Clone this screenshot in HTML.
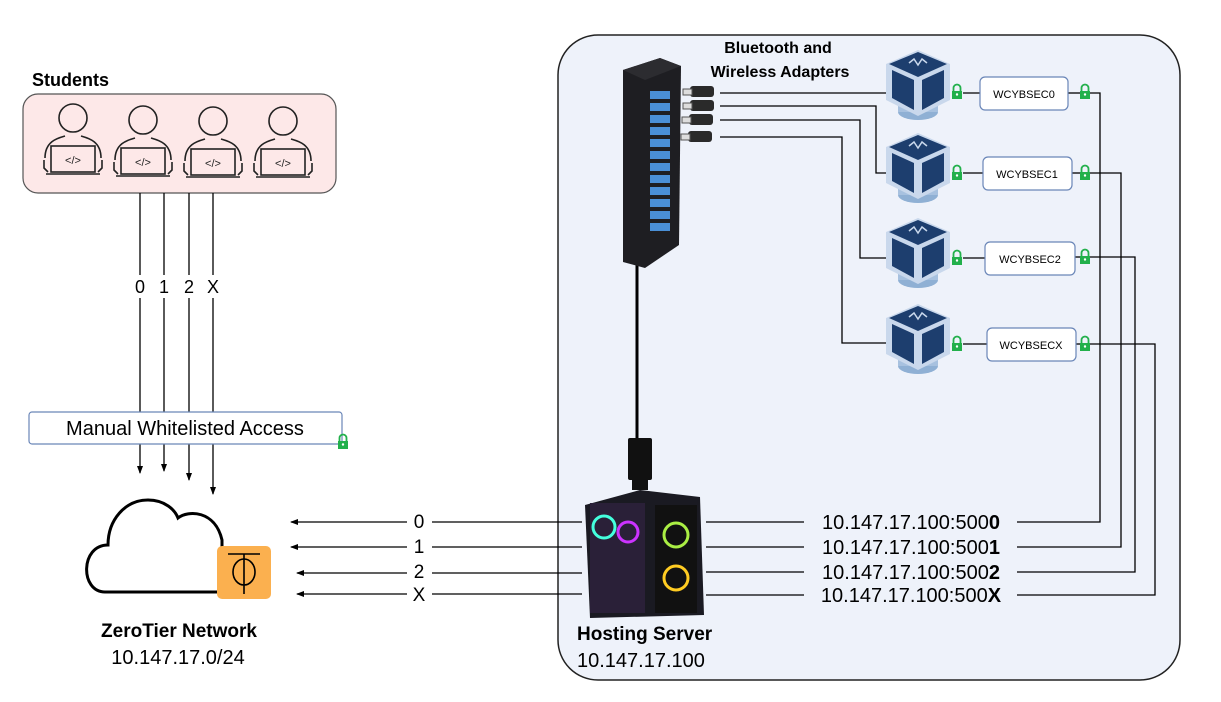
<!DOCTYPE html>
<html><head><meta charset="utf-8"><style>
html,body{margin:0;padding:0;background:#fff;}
svg{display:block;font-family:"Liberation Sans",sans-serif;}
</style></head><body>
<svg width="1221" height="702" viewBox="0 0 1221 702" xmlns="http://www.w3.org/2000/svg">
<defs>
<marker id="ah" markerWidth="8" markerHeight="8" refX="7" refY="4" orient="auto" markerUnits="userSpaceOnUse">
<path d="M0,1 L8,4 L0,7 Z" fill="#000"/></marker>
<g id="vm">
<ellipse cx="0" cy="62" rx="20" ry="8" fill="#8fb0d4"/>
<rect x="-20" y="48" width="40" height="14" fill="#a7c1df"/>
<polygon points="0,0 32,14 32,50 0,66 -32,50 -32,14" fill="#c9d8ec"/>
<polygon points="0,2 29,14 0,27 -29,14" fill="#1d3e6e"/>
<polygon points="-26,20 -4,30 -4,60 -26,48" fill="#1d3e6e"/>
<polygon points="26,20 4,30 4,60 26,48" fill="#1d3e6e"/>
<path d="M-9,13 L-4,9 L0,15 L4,9 L9,13" stroke="#c9d8ec" stroke-width="1.5" fill="none"/>
</g>
<g id="lock">
<path d="M-3.5,0 V-3 A3.5,3.5 0 0 1 3.5,-3 V0" stroke="#22b04b" stroke-width="1.8" fill="none"/>
<rect x="-5" y="0" width="10" height="8" fill="#22b04b"/>
<circle cx="0" cy="3.5" r="1.2" fill="#fff"/>
</g>
<g id="stud" fill="none" stroke="#222" stroke-width="1.6">
<circle cx="0" cy="-18" r="14"/>
<path d="M-28,22 C-28,5 -15,2 -8,0 M28,22 C28,5 15,2 8,0"/>
<path d="M-29,24 V32 L-25,36 M29,24 V32 L25,36"/>
<rect x="-22" y="10" width="44" height="26"/>
<path d="M-27,38 H27"/>
<text x="0" y="28" font-size="11" text-anchor="middle" stroke="none" fill="#222">&lt;/&gt;</text>
</g>
</defs>

<rect x="558" y="35" width="622" height="645" rx="40" fill="#eef2fa" stroke="#222" stroke-width="1.5"/>

<text x="32" y="86" font-size="18" font-weight="bold">Students</text>
<rect x="23" y="94" width="313" height="99" rx="15" fill="#fde8e8" stroke="#555" stroke-width="1.2"/>
<use href="#stud" x="73" y="136"/>
<use href="#stud" x="143" y="138"/>
<use href="#stud" x="213" y="139"/>
<use href="#stud" x="283" y="139"/>

<g stroke="#000" stroke-width="1.3">
<line x1="140" y1="193" x2="140" y2="275"/><line x1="140" y1="298" x2="140" y2="412"/>
<line x1="164" y1="193" x2="164" y2="275"/><line x1="164" y1="298" x2="164" y2="412"/>
<line x1="189" y1="193" x2="189" y2="275"/><line x1="189" y1="298" x2="189" y2="412"/>
<line x1="213" y1="193" x2="213" y2="275"/><line x1="213" y1="298" x2="213" y2="412"/>
<line x1="140" y1="444" x2="140" y2="473" marker-end="url(#ah)"/>
<line x1="164" y1="444" x2="164" y2="471" marker-end="url(#ah)"/>
<line x1="189" y1="444" x2="189" y2="480" marker-end="url(#ah)"/>
<line x1="213" y1="444" x2="213" y2="494" marker-end="url(#ah)"/>
</g>
<g font-size="18" text-anchor="middle"><text x="140" y="293">0</text><text x="164" y="293">1</text><text x="189" y="293">2</text><text x="213" y="293">X</text></g>

<rect x="29" y="412" width="313" height="32" rx="3" fill="#fff" stroke="#6a86b8" stroke-width="1.2"/>
<text x="185" y="435" font-size="20" text-anchor="middle">Manual Whitelisted Access</text>
<use href="#lock" x="343" y="441"/>

<path d="M105,592 C80,592 80,545 108,545 C108,520 125,500 148,500 C165,500 175,510 178,518 C188,510 215,510 222,540 L222,592 Z" fill="none" stroke="#000" stroke-width="3"/>
<rect x="217" y="546" width="54" height="53" rx="5" fill="#fbb04f"/>
<line x1="228" y1="554" x2="260" y2="554" stroke="#000" stroke-width="1.6"/>
<line x1="244" y1="554" x2="244" y2="594" stroke="#000" stroke-width="1.6"/>
<ellipse cx="244" cy="572" rx="11" ry="13" fill="none" stroke="#000" stroke-width="1.6"/>
<text x="179" y="637" font-size="19" font-weight="bold" text-anchor="middle">ZeroTier Network</text>
<text x="178" y="664" font-size="20" text-anchor="middle">10.147.17.0/24</text>

<g stroke="#000" stroke-width="1.3">
<line x1="407" y1="522" x2="291" y2="522" marker-end="url(#ah)"/><line x1="432" y1="522" x2="582" y2="522"/>
<line x1="407" y1="547" x2="291" y2="547" marker-end="url(#ah)"/><line x1="432" y1="547" x2="582" y2="547"/>
<line x1="407" y1="573" x2="297" y2="573" marker-end="url(#ah)"/><line x1="432" y1="573" x2="582" y2="573"/>
<line x1="407" y1="594" x2="297" y2="594" marker-end="url(#ah)"/><line x1="432" y1="594" x2="582" y2="594"/>
</g>
<g font-size="19" text-anchor="middle"><text x="419" y="528">0</text><text x="419" y="553">1</text><text x="419" y="578">2</text><text x="419" y="601">X</text></g>

<polygon points="585,505 640,490 700,497 704,615 590,618" fill="#1a1a22"/>
<rect x="590" y="503" width="55" height="110" fill="#2a2038"/>
<circle cx="604" cy="527" r="11" fill="none" stroke="#4fd" stroke-width="3"/>
<circle cx="628" cy="532" r="10" fill="none" stroke="#c3f" stroke-width="3"/>
<rect x="655" y="505" width="42" height="108" fill="#111"/>
<circle cx="676" cy="535" r="12" fill="none" stroke="#ae4" stroke-width="3"/>
<circle cx="676" cy="578" r="12" fill="none" stroke="#fc2" stroke-width="3"/>
<text x="577" y="640" font-size="19" font-weight="bold">Hosting Server</text>
<text x="577" y="667" font-size="20">10.147.17.100</text>

<g stroke="#000" stroke-width="1.3" fill="none">
<polyline points="706,522 804,522"/><polyline points="1017,522 1100,522 1100,93 1083,93"/>
<polyline points="706,547 804,547"/><polyline points="1017,547 1121,547 1121,173 1083,173"/>
<polyline points="706,572 804,572"/><polyline points="1017,572 1135,572 1135,257 1083,257"/>
<polyline points="706,595 804,595"/><polyline points="1017,595 1155,595 1155,344 1083,344"/>
</g>
<g font-size="20" text-anchor="middle">
<text x="911" y="529">10.147.17.100:500<tspan font-weight="bold">0</tspan></text>
<text x="911" y="554">10.147.17.100:500<tspan font-weight="bold">1</tspan></text>
<text x="911" y="579">10.147.17.100:500<tspan font-weight="bold">2</tspan></text>
<text x="911" y="602">10.147.17.100:500<tspan font-weight="bold">X</tspan></text>
</g>

<line x1="637" y1="262" x2="637" y2="445" stroke="#000" stroke-width="3"/>
<rect x="628" y="438" width="24" height="42" rx="2" fill="#111"/>
<rect x="632" y="480" width="16" height="10" fill="#111"/>

<polygon points="623,70 660,58 681,66 679,245 645,268 623,262" fill="#1e1e22"/>
<polygon points="623,70 660,58 681,66 645,80" fill="#2c2c30"/>
<g fill="#4a8fd6">
<rect x="650" y="91" width="20" height="8"/><rect x="650" y="103" width="20" height="8"/><rect x="650" y="115" width="20" height="8"/><rect x="650" y="127" width="20" height="8"/><rect x="650" y="139" width="20" height="8"/><rect x="650" y="151" width="20" height="8"/><rect x="650" y="163" width="20" height="8"/><rect x="650" y="175" width="20" height="8"/><rect x="650" y="187" width="20" height="8"/><rect x="650" y="199" width="20" height="8"/><rect x="650" y="211" width="20" height="8"/><rect x="650" y="223" width="20" height="8"/>
</g>
<g fill="#2a2a2a">
<rect x="690" y="86" width="24" height="11" rx="3"/><rect x="683" y="89" width="9" height="6" fill="#ddd" stroke="#555"/>
<rect x="690" y="100" width="24" height="11" rx="3"/><rect x="683" y="103" width="9" height="6" fill="#ddd" stroke="#555"/>
<rect x="689" y="114" width="24" height="11" rx="3"/><rect x="682" y="117" width="9" height="6" fill="#ddd" stroke="#555"/>
<rect x="688" y="131" width="24" height="11" rx="3"/><rect x="681" y="134" width="9" height="6" fill="#ddd" stroke="#555"/>
</g>
<text x="778" y="53" font-size="16" font-weight="bold" text-anchor="middle">Bluetooth and</text>
<text x="780" y="77" font-size="16" font-weight="bold" text-anchor="middle">Wireless Adapters</text>

<g stroke="#000" stroke-width="1.3" fill="none">
<polyline points="720,93 890,93"/>
<polyline points="720,106 876,106 876,173 890,173"/>
<polyline points="720,120 860,120 860,258 890,258"/>
<polyline points="720,137 842,137 842,343 890,343"/>
</g>

<use href="#vm" x="918" y="50"/>
<use href="#vm" x="918" y="133"/>
<use href="#vm" x="918" y="218"/>
<use href="#vm" x="918" y="304"/>

<g stroke="#000" stroke-width="1.3">
<line x1="963" y1="93" x2="980" y2="93"/><line x1="963" y1="173" x2="983" y2="173"/>
<line x1="963" y1="258" x2="985" y2="258"/><line x1="963" y1="344" x2="987" y2="344"/>
<line x1="1068" y1="93" x2="1080" y2="93"/><line x1="1072" y1="173" x2="1080" y2="173"/>
<line x1="1075" y1="257" x2="1080" y2="257"/><line x1="1076" y1="344" x2="1080" y2="344"/>
</g>
<use href="#lock" x="957" y="91"/><use href="#lock" x="957" y="172"/><use href="#lock" x="957" y="257"/><use href="#lock" x="957" y="343"/>
<use href="#lock" x="1085" y="91"/><use href="#lock" x="1085" y="172"/><use href="#lock" x="1085" y="256"/><use href="#lock" x="1085" y="343"/>
<g fill="#fff" stroke="#6a86b8" stroke-width="1.2">
<rect x="980" y="77" width="88" height="33" rx="5"/>
<rect x="983" y="157" width="89" height="33" rx="5"/>
<rect x="985" y="242" width="90" height="33" rx="5"/>
<rect x="987" y="328" width="89" height="33" rx="5"/>
</g>
<g font-size="11" text-anchor="middle">
<text x="1024" y="98">WCYBSEC0</text>
<text x="1027" y="178">WCYBSEC1</text>
<text x="1030" y="263">WCYBSEC2</text>
<text x="1031" y="349">WCYBSECX</text>
</g>
</svg>
</body></html>
